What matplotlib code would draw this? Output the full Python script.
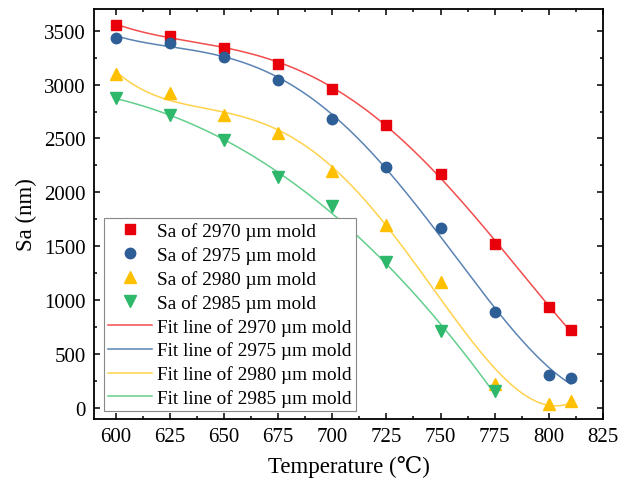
import numpy as np
import matplotlib
matplotlib.use("Agg")
import matplotlib.pyplot as plt
from matplotlib.ticker import MultipleLocator

plt.rcParams['font.family'] = ['Liberation Serif', 'DejaVu Serif']

temps = [600, 625, 650, 675, 700, 725, 750, 775, 800, 810]
temps_2985 = [600, 625, 650, 675, 700, 725, 750, 775]
sa_2970 = [3552, 3454, 3343, 3191, 2959, 2626, 2172, 1524, 938, 728]
sa_2975 = [3435, 3389, 3259, 3043, 2679, 2234, 1669, 889, 311, 280]
sa_2980 = [3095, 2926, 2719, 2549, 2194, 1700, 1167, 225, 40, 70]
sa_2985 = [2873, 2719, 2487, 2139, 1870, 1352, 719, 157]

labels_pts = ["Sa of 2970 µm mold", "Sa of 2975 µm mold",
              "Sa of 2980 µm mold", "Sa of 2985 µm mold"]
labels_fit = ["Fit line of 2970 µm mold", "Fit line of 2975 µm mold",
              "Fit line of 2980 µm mold", "Fit line of 2985 µm mold"]
fit_degrees = [4, 4, 4, 3]

marker_colors = ["#E8000B", "#2E5E96", "#FFC000", "#2DB86B"]
line_colors = ["#F24D4D", "#5A83B4", "#FFD24D", "#63CF8C"]
markers = ["s", "o", "^", "v"]
msizes = [7, 7.5, 8, 8]

series = [(temps, sa_2970), (temps, sa_2975), (temps, sa_2980), (temps_2985, sa_2985)]

fig = plt.figure(figsize=(6.33, 4.81), dpi=100)
ax = fig.add_axes([94/633, 1-420/481, (603-94)/633, (420-10)/481])

pt_handles = []
line_handles = []
for (x, y), deg, mc, lc, m, ms, lp, lf in zip(series, fit_degrees, marker_colors, line_colors,
                                               markers, msizes, labels_pts, labels_fit):
    x = np.asarray(x, float); y = np.asarray(y, float)
    u = (x - 700) / 100
    coef = np.polyfit(u, y, deg)
    xs = np.linspace(x.min(), x.max(), 300)
    lh, = ax.plot(xs, np.polyval(coef, (xs - 700) / 100), color=lc, lw=1.1, label=lf, zorder=2)
    ph, = ax.plot(x, y, linestyle='none', marker=m, ms=ms, color=mc, mec=mc, label=lp, zorder=3)
    pt_handles.append(ph); line_handles.append(lh)

ax.set_xlim(590, 825)
ax.set_ylim(-100, 3700)
ax.xaxis.set_major_locator(MultipleLocator(25))
ax.xaxis.set_minor_locator(MultipleLocator(12.5))
ax.yaxis.set_major_locator(MultipleLocator(500))
ax.yaxis.set_minor_locator(MultipleLocator(250))
ax.tick_params(which='both', direction='in', top=True, right=True, labelsize=15, width=1.1)
ax.tick_params(which='major', length=4.5, pad=6)
ax.tick_params(which='minor', length=2.5)
for s in ax.spines.values():
    s.set_linewidth(1.3)

ax.set_xlabel("Temperature (℃)", fontsize=16.5, labelpad=6)
ax.set_ylabel("Sa (nm)", fontsize=16.5, labelpad=5)

leg = ax.legend(pt_handles + line_handles, labels_pts + labels_fit,
                loc='lower left', bbox_to_anchor=(10/509, 8/410), borderaxespad=0,
                fontsize=13.9, fancybox=False, edgecolor='#888888', framealpha=1,
                handlelength=2.3, labelspacing=0.31, borderpad=0.2, handletextpad=0.25)
leg.get_frame().set_linewidth(0.8)

fig.savefig("out.png", dpi=100)
